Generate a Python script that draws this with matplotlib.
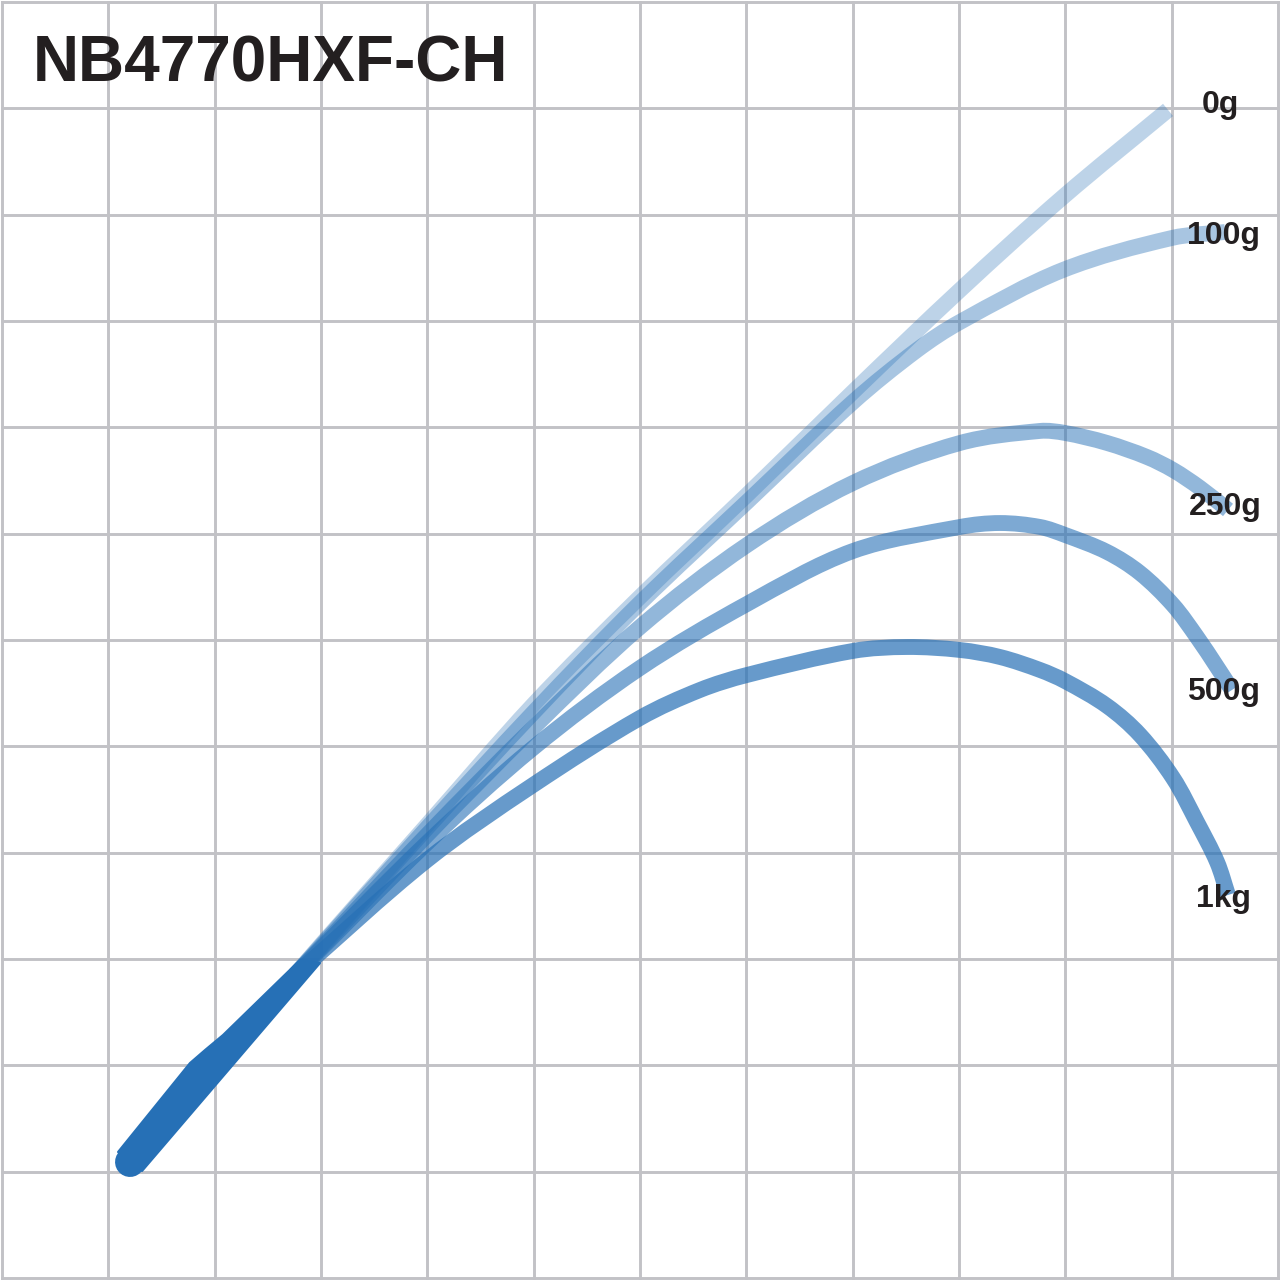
import matplotlib
matplotlib.use("Agg")
import numpy as np
import matplotlib.pyplot as plt
from matplotlib.path import Path
from matplotlib.patches import PathPatch, Polygon

# ---------------- data (grid units, 12 x 12 grid) ----------------
title = "NB4770HXF-CH"

load_labels = ["0g", "100g", "250g", "500g", "1kg"]

x_0g = [2.756, 3.000, 3.997, 4.994, 6.000, 7.006, 8.003, 9.010, 9.978, 10.966]
y_0g = [2.850, 3.132, 4.260, 5.389, 6.405, 7.364, 8.333, 9.292, 10.166, 10.985]

x_100g = [2.756, 3.997, 4.994, 6.000, 7.006, 8.003, 8.605, 9.010, 9.978, 11.003, 11.502]
y_100g = [2.850, 4.232, 5.314, 6.348, 7.298, 8.238, 8.727, 8.991, 9.480, 9.781, 9.837]

x_250g = [2.756, 3.997, 4.994, 6.000, 7.006, 8.003, 9.010, 9.762, 9.997, 10.392,
          10.768, 11.013, 11.267, 11.530]
y_250g = [2.850, 4.166, 5.173, 6.122, 6.893, 7.477, 7.853, 7.966, 7.947, 7.853,
          7.721, 7.599, 7.430, 7.223]

x_500g = [2.756, 3.997, 4.994, 6.000, 7.006, 8.003, 9.010, 9.386, 9.762, 9.997,
          10.392, 10.702, 11.013, 11.238, 11.427, 11.567]
y_500g = [2.850, 4.091, 4.984, 5.737, 6.339, 6.837, 7.063, 7.100, 7.063, 6.988,
          6.828, 6.630, 6.329, 6.028, 5.746, 5.530]

x_1kg = [2.756, 3.997, 4.994, 6.000, 6.564, 7.006, 8.003, 8.511, 9.010, 9.386,
         9.762, 9.997, 10.392, 10.702, 11.013, 11.238, 11.427, 11.530]
y_1kg = [2.850, 3.931, 4.636, 5.267, 5.530, 5.671, 5.897, 5.934, 5.906, 5.840,
         5.718, 5.614, 5.380, 5.107, 4.702, 4.288, 3.912, 3.602]

# rod butt outline (solid common section)
butt_outline_x = [1.091, 1.768, 1.909, 2.078, 2.803, 2.991, 1.317]
butt_outline_y = [1.185, 2.022, 2.144, 2.285, 2.991, 2.962, 1.006]
# butt end (rounded)
butt_end_x = [1.204, 1.486]
butt_end_y = [1.091, 1.439]

# label anchor positions (centre x, baseline y)
label_x = [11.455, 11.492, 11.502, 11.483, 11.483]
label_y = [10.956, 9.724, 7.176, 5.436, 3.489]

grid_ticks = list(range(0, 13))

# ---------------- styles ----------------
rod_color = "#2670b6"
curve_alphas = [0.30, 0.40, 0.50, 0.60, 0.70]
curve_lw = 11.4
grid_color = "#c2c2c6"
text_color = "#231f20"
font = ["Liberation Sans", "DejaVu Sans"]


def smooth_path(xs, ys):
    """Cubic Bezier path passing through the given points."""
    p = np.column_stack([xs, ys]).astype(float)
    n = len(p)
    tang = np.zeros_like(p)
    for i in range(n):
        a = p[max(i - 1, 0)]
        b = p[min(i + 1, n - 1)]
        d = b - a
        tang[i] = d / np.hypot(*d)
    verts = [p[0]]
    codes = [Path.MOVETO]
    for i in range(n - 1):
        L = np.hypot(*(p[i + 1] - p[i])) / 3.0
        verts += [p[i] + tang[i] * L, p[i + 1] - tang[i + 1] * L, p[i + 1]]
        codes += [Path.CURVE4] * 3
    return Path(verts, codes)


fig = plt.figure(figsize=(12.8, 12.8), dpi=100)
ax = fig.add_axes([2 / 1280, 2 / 1280, 1276 / 1280, 1276 / 1280])
ax.set_xlim(0, 12)
ax.set_ylim(0, 12)
ax.axis("off")

for t in grid_ticks:
    ax.axvline(t, color=grid_color, lw=2.1, zorder=0, clip_on=False)
    ax.axhline(t, color=grid_color, lw=2.1, zorder=0, clip_on=False)

curves = [(x_0g, y_0g), (x_100g, y_100g), (x_250g, y_250g),
          (x_500g, y_500g), (x_1kg, y_1kg)]
for (xs, ys), a in zip(curves, curve_alphas):
    patch = PathPatch(smooth_path(xs, ys), facecolor="none", edgecolor=rod_color,
                      alpha=a, lw=curve_lw, capstyle="butt", joinstyle="round",
                      zorder=2)
    ax.add_patch(patch)

ax.add_patch(Polygon(np.column_stack([butt_outline_x, butt_outline_y]),
                     closed=True, facecolor=rod_color, edgecolor=rod_color,
                     lw=1.5, joinstyle="round", zorder=3))
ax.plot(butt_end_x, butt_end_y, color=rod_color, lw=21.6,
        solid_capstyle="round", zorder=3)

for lab, lx, ly in zip(load_labels, label_x, label_y):
    ax.text(lx, ly, lab, ha="center", va="baseline", fontsize=23,
            fontweight="bold", color=text_color, family=font, zorder=5)

ax.text(0.292, 11.248, title, ha="left", va="baseline", fontsize=46,
        fontweight="bold", color=text_color, family=font, zorder=5)

fig.savefig("out.png", dpi=100, facecolor="white")
